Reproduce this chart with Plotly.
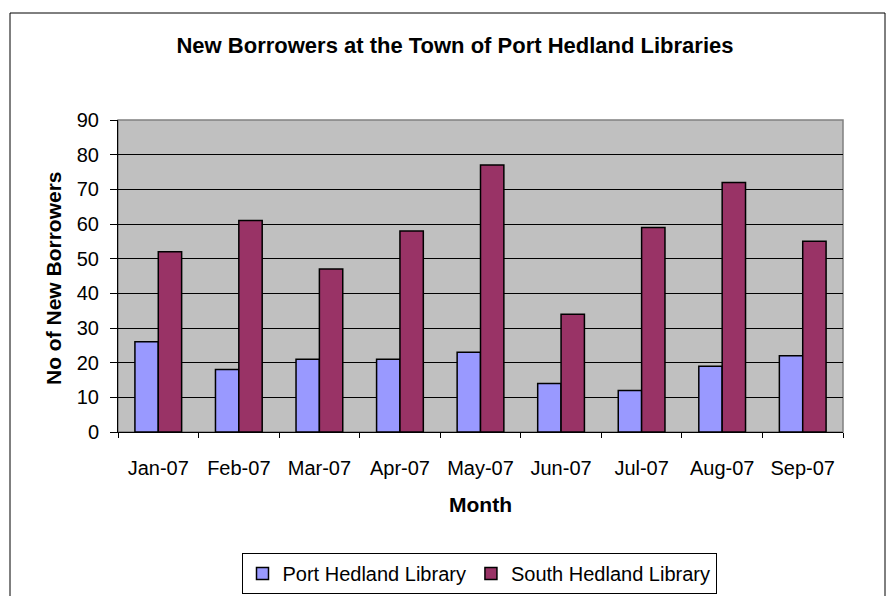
import plotly.graph_objects as go

months = ["Jan-07", "Feb-07", "Mar-07", "Apr-07", "May-07", "Jun-07", "Jul-07", "Aug-07", "Sep-07"]
port_hedland = [26, 18, 21, 21, 23, 14, 12, 19, 22]
south_hedland = [52, 61, 47, 58, 77, 34, 59, 72, 55]

FONT = "Arial, Liberation Sans, sans-serif"

fig = go.Figure()
fig.add_trace(go.Bar(x=months, y=port_hedland, name="Port Hedland Library",
                     marker=dict(color="#9999FF", line=dict(color="#000000", width=1.5))))
fig.add_trace(go.Bar(x=months, y=south_hedland, name="South Hedland Library",
                     marker=dict(color="#993366", line=dict(color="#000000", width=1.5))))

L, R, T, B = 118, 843, 120, 432
W, H = 888, 596
pw, ph = R - L, B - T

def px(x):
    return (x - L) / pw

def py(y):
    return (B - y) / ph

fig.update_layout(
    width=W, height=H,
    margin=dict(l=L, r=W - R, t=T, b=H - B, pad=0, autoexpand=False),
    paper_bgcolor="white",
    plot_bgcolor="#C0C0C0",
    barmode="group",
    bargap=0.42,
    bargroupgap=0,
    font=dict(family=FONT, size=20, color="black"),
    title=dict(text="<b>New Borrowers at the Town of Port Hedland Libraries</b>",
               x=455 / W, xanchor="center", y=1 - 45 / H, yanchor="middle",
               font=dict(size=22, family=FONT, color="black")),
    showlegend=True,
    legend=dict(orientation="h", x=px(479), xanchor="center", y=py(594), yanchor="bottom",
                bordercolor="black", borderwidth=1, bgcolor="white",
                font=dict(size=20, family=FONT), itemwidth=30,
                traceorder="normal"),
    xaxis=dict(type="category", showline=True, linecolor="black", linewidth=1,
               ticks="outside", ticklen=5, tickcolor="black", tickson="boundaries",
               ticklabelstandoff=18, tickfont=dict(size=20, family=FONT),
               showgrid=False, zeroline=False, fixedrange=True, automargin=False),
    yaxis=dict(range=[0, 90], dtick=10, tick0=0, showline=True, linecolor="black", linewidth=1,
               ticks="outside", ticklen=7, tickcolor="black",
               ticklabelstandoff=7, tickfont=dict(size=20, family=FONT),
               showgrid=True, gridcolor="black", gridwidth=1, zeroline=False, automargin=False),
    shapes=[
        dict(type="rect", xref="paper", yref="paper", x0=0, x1=1, y0=0, y1=1,
             line=dict(color="#808080", width=1.5), layer="below"),
        dict(type="rect", xref="paper", yref="paper", x0=px(10), x1=px(885), y0=py(13), y1=py(610),
             line=dict(color="black", width=1), layer="below"),
    ],
    annotations=[
        dict(text="<b>Month</b>", xref="paper", yref="paper", x=px(480), y=py(504),
             xanchor="center", yanchor="middle", showarrow=False,
             font=dict(size=21, family=FONT)),
        dict(text="<b>No of New Borrowers</b>", xref="paper", yref="paper", x=px(53), y=py(278),
             xanchor="center", yanchor="middle", showarrow=False, textangle=-90,
             font=dict(size=21, family=FONT)),
    ],
)

fig.write_html("out.html")
